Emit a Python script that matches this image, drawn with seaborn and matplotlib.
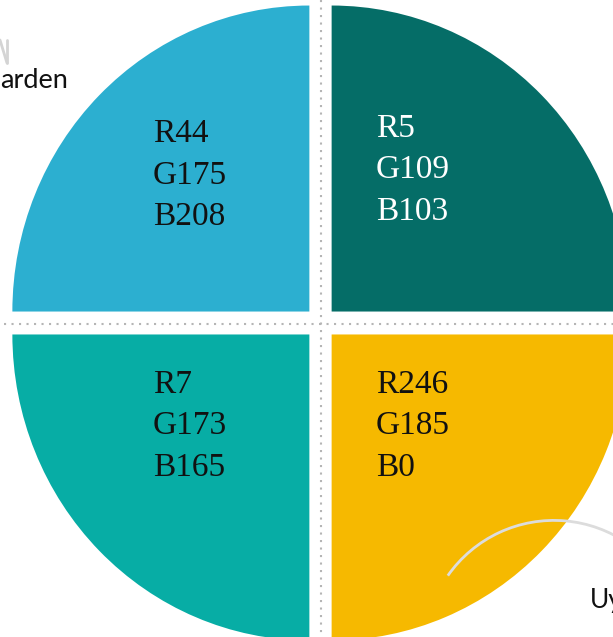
import numpy as np
import matplotlib
matplotlib.use("Agg")
import matplotlib.pyplot as plt
from matplotlib.patches import Arc
import seaborn as sns

# quadrant order as drawn by pie: top-right, top-left, bottom-left, bottom-right
R_VALS = [5, 44, 7, 246]
G_VALS = [109, 175, 173, 185]
B_VALS = [103, 208, 165, 0]
TEXT_COLORS = ["white", "#111111", "#111111", "#111111"]
SIDE_LABELS = ["arden", "Uy"]

W, H = 613, 637

sns.set_theme(style="white")
plt.rcParams["font.family"] = ["Liberation Serif", "DejaVu Serif"]

colors = [(r / 255, g / 255, b / 255) for r, g, b in zip(R_VALS, G_VALS, B_VALS)]

fig = plt.figure(figsize=(W / 100, H / 100), dpi=100)

# pie axes: 1 data unit = 297 px horizontally, 306 px vertically
ax = fig.add_axes([0, 0, 1, 1])
ax.pie([1, 1, 1, 1], colors=colors, startangle=0, counterclock=True,
       explode=[0.053] * 4, radius=1, wedgeprops=dict(linewidth=0))
ax.set_aspect("auto")
cx, cy, rx, ry = 320.5, 323, 297, 306
ax.set_xlim(-cx / rx, (W - cx) / rx)
ax.set_ylim(-(H - cy) / ry, cy / ry)
ax.axis("off")

# overlay axes in pixel coordinates
ov = fig.add_axes([0, 0, 1, 1])
ov.set_xlim(0, W)
ov.set_ylim(H, 0)
ov.axis("off")
ov.patch.set_alpha(0)

dot_style = dict(color="#b5b5b5", lw=1.5, linestyle=(0, (1, 2.6)))
ov.plot([321, 321], [0, H], **dot_style)
ov.plot([4, W], [324, 324], **dot_style)

# channel labels
anchors = [(376, 137), (153, 142), (153, 393), (376, 393)]
for (x, y), r, g, b, tc in zip(anchors, R_VALS, G_VALS, B_VALS, TEXT_COLORS):
    for i, txt in enumerate([f"R{r}", f"G{g}", f"B{b}"]):
        ov.text(x, y + i * 41.5, txt, fontsize=24, color=tc,
                ha="left", va="baseline")

# side decorations
ov.plot([0, 7], [40, 63], color="#d4d4d4", lw=2)
ov.plot([7, 7], [40, 63], color="#d4d4d4", lw=2)
ov.text(0, 88, SIDE_LABELS[0], fontsize=19.5, color="#111111",
        family=["Lato", "DejaVu Sans"], ha="left", va="baseline")
ov.add_patch(Arc((554, 650), 2 * 129.6, 2 * 129.6, theta1=-145, theta2=-25,
                 color="#dcdcdc", lw=2))
ov.text(590, 608, SIDE_LABELS[1], fontsize=19, color="#111111",
        family=["Lato", "DejaVu Sans"], ha="left", va="baseline")

fig.savefig("out.png", dpi=100)
